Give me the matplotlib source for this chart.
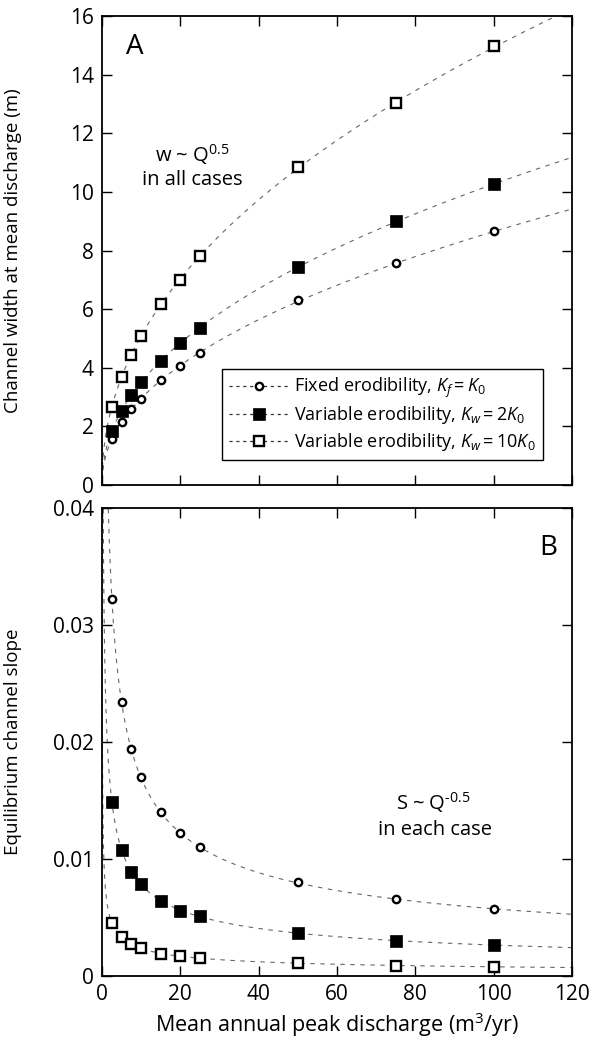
import numpy as np
import matplotlib
matplotlib.use("Agg")
import matplotlib.pyplot as plt
from matplotlib.lines import Line2D

# datos
caudal = [2.5, 5, 7.5, 10, 15, 20, 25, 50, 75, 100]

ancho_fijo = [1.56, 2.14, 2.58, 2.93, 3.58, 4.07, 4.50, 6.31, 7.56, 8.67]
ancho_2k = [1.84, 2.54, 3.07, 3.53, 4.22, 4.83, 5.36, 7.44, 9.01, 10.27]
ancho_10k = [2.67, 3.70, 4.44, 5.09, 6.16, 6.99, 7.81, 10.85, 13.02, 14.98]

pend_fijo = [0.0322, 0.0234, 0.0194, 0.0170, 0.0140, 0.0122, 0.0110, 0.0080, 0.0066, 0.0057]
pend_2k = [0.0149, 0.0108, 0.0089, 0.0079, 0.0064, 0.0056, 0.0051, 0.0037, 0.0030, 0.00265]
pend_10k = [0.0045, 0.0033, 0.0027, 0.0024, 0.0019, 0.0017, 0.0015, 0.0011, 0.0009, 0.0008]

etiquetas = [
    r"Fixed erodibility, $K_f = K_0$",
    r"Variable erodibility, $K_w = \mathit{2K}_0$",
    r"Variable erodibility, $K_w = \mathit{10K}_0$",
]

plt.rcParams["font.family"] = ["Open Sans", "DejaVu Sans"]
plt.rcParams["mathtext.fontset"] = "custom"
plt.rcParams["mathtext.rm"] = "Open Sans"
plt.rcParams["mathtext.it"] = "Open Sans:italic"
plt.rcParams["mathtext.bf"] = "Open Sans:bold"

estilos = [
    dict(marker="o", ms=5.3, mfc="white", mec="black", mew=1.7),
    dict(marker="s", ms=8.5, mfc="black", mec="black", mew=0.5),
    dict(marker="s", ms=7.6, mfc="white", mec="black", mew=1.7),
]
estilo_curva = dict(color="0.4", lw=0.8, dashes=(4, 5))


def ajuste_potencia(q, y):
    # ajuste y = a * q^b en escala log
    b, loga = np.polyfit(np.log(q), np.log(y), 1)
    return np.exp(loga), b


def formato_ejes(ax):
    ax.set_xlim(0, 120)
    ax.set_xticks(range(0, 121, 20))
    ax.tick_params(direction="in", top=True, right=True, length=7, width=1,
                   labelsize=15, pad=6)
    for s in ax.spines.values():
        s.set_linewidth(1.3)


fig = plt.figure(figsize=(5.92, 10.42), dpi=100)
ax_a = fig.add_axes([0.1723, 0.5345, 0.7939, 0.4501])
ax_b = fig.add_axes([0.1723, 0.0633, 0.7939, 0.4491])

q = np.array(caudal, dtype=float)
q_fino = np.linspace(0.02, 120, 2000)

for serie, est in zip([ancho_fijo, ancho_2k, ancho_10k], estilos):
    a, b = ajuste_potencia(q, np.array(serie))
    ax_a.plot(q_fino, a * q_fino ** b, **estilo_curva, zorder=1)
    ax_a.plot(q, serie, ls="none", zorder=3, **est)

for serie, est in zip([pend_fijo, pend_2k, pend_10k], estilos):
    a, b = ajuste_potencia(q, np.array(serie))
    ax_b.plot(q_fino, a * q_fino ** b, **estilo_curva, zorder=1)
    ax_b.plot(q, serie, ls="none", zorder=3, **est)

# panel A
formato_ejes(ax_a)
ax_a.set_ylim(0, 16)
ax_a.set_yticks(range(0, 17, 2))
ax_a.tick_params(labelbottom=False)
ax_a.set_ylabel("Channel width at mean discharge (m)", fontsize=13.5)
ax_a.yaxis.set_label_coords(-0.17, 0.5)
ax_a.text(0.07, 0.934, "A", transform=ax_a.transAxes, fontsize=20,
          ha="center", va="center")
ax_a.text(23, 11.26, "w ~ $\\mathregular{Q^{0.5}}$", fontsize=14.5, ha="center", va="center")
ax_a.text(23, 10.4, "in all cases", fontsize=14.5, ha="center", va="center")

handles = [Line2D([], [], ls=(0, (2.5, 3)), color="0.2", lw=0.9, **est) for est in estilos]
ley = ax_a.legend(handles, etiquetas, loc="lower right", bbox_to_anchor=(0.938, 0.053),
                  borderaxespad=0, fontsize=13, handlelength=3.3, handletextpad=0.3,
                  labelspacing=0.25, borderpad=0.4, fancybox=False, framealpha=1,
                  edgecolor="black")
ley.get_frame().set_linewidth(1.0)

# panel B
formato_ejes(ax_b)
ax_b.set_ylim(0, 0.04)
ax_b.set_yticks([0, 0.01, 0.02, 0.03, 0.04])
ax_b.set_yticklabels(["0", "0.01", "0.02", "0.03", "0.04"])
ax_b.set_ylabel("Equilibrium channel slope", fontsize=13.5)
ax_b.yaxis.set_label_coords(-0.17, 0.5)
ax_b.set_xlabel("Mean annual peak discharge (m$^3$/yr)", fontsize=15.5)
ax_b.xaxis.set_label_coords(0.5, -0.073)
ax_b.text(0.949, 0.914, "B", transform=ax_b.transAxes, fontsize=20,
          ha="center", va="center")
ax_b.text(84.5, 0.01479, "S ~ $\\mathregular{Q^{\u20100.5}}$", fontsize=14.5,
          ha="center", va="center")
ax_b.text(85, 0.01248, "in each case", fontsize=14.5, ha="center", va="center")

fig.savefig("out.png", dpi=100)
plt.close(fig)
